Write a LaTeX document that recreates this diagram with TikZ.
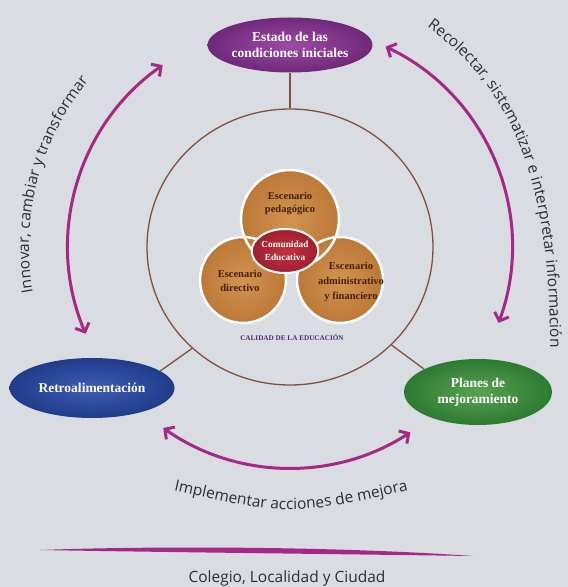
\documentclass[tikz,border=0pt]{standalone}
\usepackage{fontspec}
\setmainfont{Liberation Serif}
\newfontfamily\labfont{Open Sans}
\usetikzlibrary{arrows.meta,shapes.geometric,decorations.text}
\definecolor{bg}{RGB}{217,221,225}
\definecolor{arrowc}{RGB}{165,40,135}
\definecolor{conncol}{RGB}{130,80,65}
\definecolor{scenbrown}{RGB}{70,32,12}
\definecolor{calcol}{RGB}{80,40,120}
\definecolor{labcol}{RGB}{45,45,50}
\begin{document}
\begin{tikzpicture}[x=1pt,y=1pt,
  oval/.style={ellipse, text=white, font=\bfseries\fontsize{13.5}{16}\selectfont, align=center, inner sep=0pt},
  scen/.style={circle, inner sep=0pt, inner color={rgb,255:red,210;green,148;blue,82}, outer color={rgb,255:red,188;green,120;blue,55}},
  scenline/.style={draw=white, line width=2.5pt},
  scentext/.style={text=scenbrown, font=\bfseries\fontsize{10.5}{14}\selectfont, align=center, inner sep=0pt},
  conn/.style={draw=conncol, line width=1.3pt},
  arr/.style={draw=arrowc, line width=3pt, {Straight Barb[length=7pt,width=15pt]}-{Straight Barb[length=7pt,width=15pt]}},
  lab/.style={text=labcol, font=\labfont\fontsize{15.5}{17}\selectfont}
]
\fill[bg] (0,0) rectangle (568,587);
\useasboundingbox (0,0) rectangle (568,587);
\coordinate (C) at (290,340);

% outer circle
\node[ellipse, conn, minimum width=286pt, minimum height=276pt] (big) at (290,340) {};

% ovals
\node[oval, minimum width=160pt, minimum height=55pt, inner color={rgb,255:red,155;green,75;blue,165}, outer color={rgb,255:red,112;green,40;blue,122}] (top) at (290,542) {Estado de las\\condiciones iniciales};
\node[oval, minimum width=165pt, minimum height=60pt, inner color={rgb,255:red,62;green,92;blue,178}, outer color={rgb,255:red,32;green,60;blue,140}] (left) at (92,199) {Retroalimentación};
\node[oval, minimum width=148pt, minimum height=66pt, inner color={rgb,255:red,88;green,162;blue,80}, outer color={rgb,255:red,45;green,122;blue,50}] (right) at (478,195) {Planes de\\mejoramiento};

% connectors
\draw[conn] (top.south) -- (big.north);
\draw[conn] (big.-134) -- (left.14);
\draw[conn] (big.-44) -- (right.157);

% venn
\node[scen, minimum size=98pt] (ped) at (290,368) {};
\node[scen, minimum size=86pt] (dir) at (243,307) {};
\node[scen, minimum size=86pt] (adm) at (340,307) {};
\draw[scenline] (ped.center) circle[radius=49pt];
\draw[scenline] (dir.center) circle[radius=43pt];
\draw[scenline] (adm.center) circle[radius=43pt];
\node[scentext, font=\bfseries\fontsize{10.5}{13}\selectfont] (tped) at (290,383) {Escenario\\pedagógico};
\node[scentext] (tdir) at (240,306) {Escenario\\directivo};
\node[scentext, font=\bfseries\fontsize{10.5}{15}\selectfont] (tadm) at (351,305) {Escenario\\administrativo\\y financiero};
\node[ellipse, minimum width=50pt, minimum height=44pt, inner sep=0pt, draw=white, line width=2pt, inner color={rgb,255:red,195;green,50;blue,65}, outer color={rgb,255:red,160;green,30;blue,48}, text=white, font=\bfseries\fontsize{9.3}{13}\selectfont, align=center] (com) at (285,336) {Comunidad\\Educativa};
\node[text=calcol, font=\bfseries\fontsize{7.2}{8}\selectfont, inner sep=0pt] (cal) at (292,250) {CALIDAD DE LA EDUCACIÓN};

% arrows
\draw[arr] ([shift={(125:222)}]C) arc[start angle=125, end angle=203, radius=222];
\draw[arr] ([shift={(64.5:222)}]C) arc[start angle=64.5, end angle=-20, radius=222];
\draw[arr] ([shift={(-125:221)}]C) arc[start angle=-125, end angle=-57, radius=221];

% curved labels
\path[decorate, decoration={text along path, text color=labcol, text align=left,
  text={|\labfont\fontsize{15.5}{15}\selectfont|Innovar, cambiar y transformar}}]
  ([shift={(190:261)}]C) arc[start angle=190, end angle=120, radius=261];
\path[decorate, decoration={text along path, text color=labcol, text align=left,
  text={|\labfont\fontsize{15.5}{15}\selectfont|Recolectar, sistematizar e interpretar información}}]
  (427,560) .. controls (515,497) and (553,400) .. (550,220);
\path[decorate, decoration={text along path, text color=labcol, text align=center,
  text={|\labfont\fontsize{15.5}{15}\selectfont|Implementar acciones de mejora}}]
  (160,100) .. controls (290,70) .. (422,100);

% bottom line
\fill[arrowc] (40,37) .. controls (150,41) and (330,41) .. (473,31)
  .. controls (330,33) and (150,35) .. (40,37) -- cycle;
\node[lab] (place) at (287,9) {Colegio, Localidad y Ciudad};
\end{tikzpicture}
\end{document}
